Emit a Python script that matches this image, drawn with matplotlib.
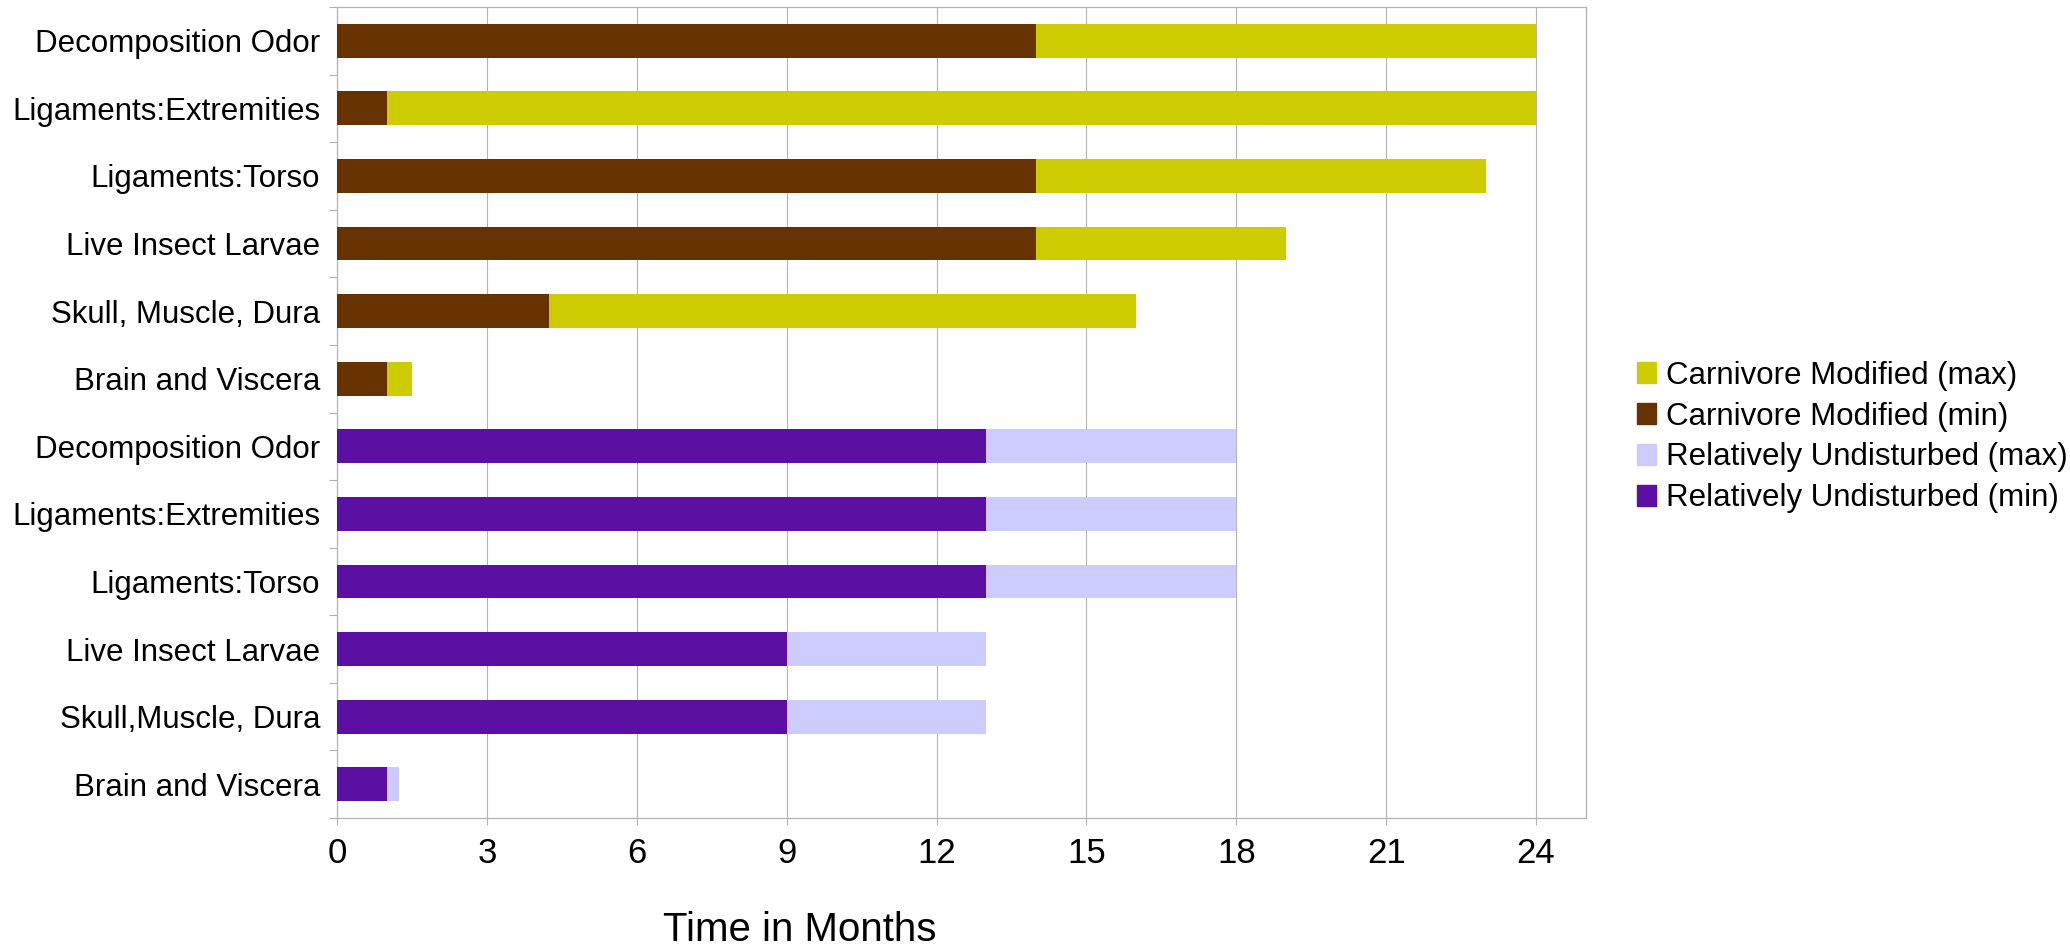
import numpy as np
import matplotlib.pyplot as plt
from matplotlib.patches import Patch

plt.rcParams['font.family'] = ['Liberation Sans', 'DejaVu Sans']

# rows listed from top to bottom
carn_labels = ['Decomposition Odor', 'Ligaments:Extremities', 'Ligaments:Torso',
               'Live Insect Larvae', 'Skull, Muscle, Dura', 'Brain and Viscera']
carn_min = [14, 1, 14, 14, 4.25, 1]
carn_max = [24, 24, 23, 19, 16, 1.5]

und_labels = ['Decomposition Odor', 'Ligaments:Extremities', 'Ligaments:Torso',
              'Live Insect Larvae', 'Skull,Muscle, Dura', 'Brain and Viscera']
und_min = [13, 13, 13, 9, 9, 1]
und_max = [18, 18, 18, 13, 13, 1.25]

x_ticks = [0, 3, 6, 9, 12, 15, 18, 21, 24]

col_cmax = '#cccc00'
col_cmin = '#663300'
col_umax = '#ccccff'
col_umin = '#5b0fa3'
grid_col = '#b3b3b3'

labels = carn_labels + und_labels
y_carn = np.arange(len(carn_labels))
y_und = np.arange(len(und_labels)) + len(carn_labels)

fig = plt.figure(figsize=(20.7, 9.47), dpi=100)
ax = fig.add_axes([337 / 2070, 1 - 818 / 947, (1586 - 337) / 2070, (818 - 7) / 947])

h = 0.5
ax.barh(y_carn, carn_max, height=h, color=col_cmax, zorder=2)
ax.barh(y_carn, carn_min, height=h, color=col_cmin, zorder=3)
ax.barh(y_und, und_max, height=h, color=col_umax, zorder=2)
ax.barh(y_und, und_min, height=h, color=col_umin, zorder=3)

ax.set_xlim(0, 25)
ax.set_ylim(len(labels) - 0.5, -0.5)
ax.set_xticks(x_ticks)
ax.set_xticklabels([str(t) for t in x_ticks], fontsize=25)
ax.set_yticks(np.arange(len(labels)))
ax.set_yticklabels(labels, fontsize=22.5)
ax.set_yticks(np.arange(len(labels) + 1) - 0.5, minor=True)

ax.tick_params(axis='y', which='major', length=0, pad=12)
ax.tick_params(axis='y', which='minor', length=6, width=0.8, color=grid_col, direction='out')
ax.tick_params(axis='x', which='major', length=5, width=0.8, color=grid_col, pad=9)
ax.xaxis.grid(True, color=grid_col, linewidth=0.8, zorder=0)
ax.set_axisbelow(True)
for s in ax.spines.values():
    s.set_color(grid_col)
    s.set_linewidth(0.9)

ax.set_xlabel('Time in Months', fontsize=29, va='center')
ax.xaxis.set_label_coords((800 - 337) / (1586 - 337), (818 - 930) / 811)

handles = [Patch(color=col_cmax, label='Carnivore Modified (max)'),
           Patch(color=col_cmin, label='Carnivore Modified (min)'),
           Patch(color=col_umax, label='Relatively Undisturbed (max)'),
           Patch(color=col_umin, label='Relatively Undisturbed (min)')]
fig.legend(handles=handles, loc='center left', bbox_to_anchor=(1637 / 2070, 1 - 437 / 947),
           frameon=False, fontsize=22.5, borderpad=0, borderaxespad=0,
           handlelength=0.62, handleheight=0.62, handletextpad=0.3, labelspacing=0.35)

fig.savefig('out.png', dpi=100)
